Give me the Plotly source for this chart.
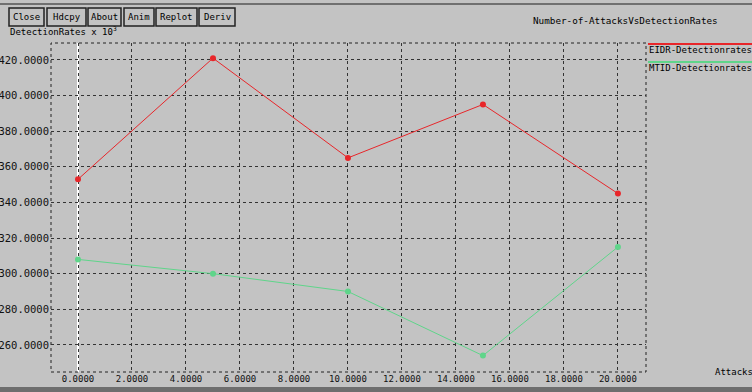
import plotly.graph_objects as go

attacks = [0, 5, 10, 15, 20]
eidr = [353, 421, 365, 395, 345]
mtid = [308, 300, 290, 254, 315]
series_names = ["EIDR-Detectionrates", "MTID-Detectionrates"]
x_ticks = [0, 2, 4, 6, 8, 10, 12, 14, 16, 18, 20]
y_ticks = [260, 280, 300, 320, 340, 360, 380, 400, 420]
buttons = ["Close", "Hdcpy", "About", "Anim", "Replot", "Deriv"]

W, H = 752, 392
L, R, T, B = 51, 646, 43, 372
BG = "#c3c3c3"
RED = "#e8262a"
GREEN = "#5fd58a"
FONT = "DejaVu Sans Mono"
FS = 9


def px(x):
    return (x - L) / (R - L)


def py(y):
    return (B - y) / (B - T)


fig = go.Figure()
fig.add_trace(go.Scatter(x=attacks, y=eidr, mode="lines+markers", name=series_names[0],
                         line=dict(color=RED, width=1), marker=dict(color=RED, size=6, symbol="circle")))
fig.add_trace(go.Scatter(x=attacks, y=mtid, mode="lines+markers", name=series_names[1],
                         line=dict(color=GREEN, width=1), marker=dict(color=GREEN, size=6, symbol="circle")))

shapes = []
annotations = []

# white zero line
shapes.append(dict(type="line", xref="x", yref="paper", x0=0, x1=0, y0=0, y1=1,
                   line=dict(color="white", width=2), layer="below"))
# dotted frame
shapes.append(dict(type="rect", xref="paper", yref="paper", x0=0, x1=1, y0=0, y1=1,
                   line=dict(color="#222222", width=1, dash="dot"), layer="below"))

# legend
legend_rows = [(44, 50, RED), (62, 68, GREEN)]
for name, (ly, ty, col) in zip(series_names, legend_rows):
    shapes.append(dict(type="line", xref="paper", yref="paper", x0=px(648), x1=px(760),
                       y0=py(ly), y1=py(ly), line=dict(color=col, width=2)))
    annotations.append(dict(text=name, xref="paper", yref="paper", x=px(647), y=py(ty),
                            xanchor="left", yanchor="middle", showarrow=False,
                            font=dict(family=FONT, size=FS, color="black")))

# title
annotations.append(dict(text="Number-of-AttacksVsDetectionRates", xref="paper", yref="paper",
                        x=px(531), y=py(21), xanchor="left", yanchor="middle", showarrow=False,
                        font=dict(family=FONT, size=9.3, color="black")))
# x label
annotations.append(dict(text="Attacks", xref="paper", yref="paper", x=px(713), y=py(372),
                        xanchor="left", yanchor="middle", showarrow=False,
                        font=dict(family=FONT, size=FS, color="black")))
# y label
annotations.append(dict(text="DetectionRates x 10<sup>3</sup>", xref="paper", yref="paper",
                        x=px(8), y=py(31), xanchor="left", yanchor="middle", showarrow=False,
                        font=dict(family=FONT, size=FS, color="black")))

# buttons
btn_x = [(9, 44), (47, 86), (88, 121), (124, 154), (156, 197), (199, 235)]
for label, (x0, x1) in zip(buttons, btn_x):
    shapes.append(dict(type="rect", xref="paper", yref="paper", x0=px(x0), x1=px(x1),
                       y0=py(26), y1=py(8), line=dict(color="#222222", width=1.5),
                       fillcolor=BG, layer="above"))
    annotations.append(dict(text=label, xref="paper", yref="paper", x=px((x0 + x1) / 2), y=py(17),
                            xanchor="center", yanchor="middle", showarrow=False,
                            font=dict(family=FONT, size=FS, color="black")))

# window frame
shapes.append(dict(type="line", xref="paper", yref="paper", x0=px(0), x1=px(W), y0=py(4), y1=py(4),
                   line=dict(color="#555555", width=1.5)))
shapes.append(dict(type="rect", xref="paper", yref="paper", x0=px(0), x1=px(W), y0=py(392), y1=py(387),
                   line=dict(width=0), fillcolor="#6e6e6e"))

fig.update_layout(
    width=W, height=H,
    margin=dict(l=L, r=W - R, t=T, b=H - B),
    paper_bgcolor=BG, plot_bgcolor=BG,
    showlegend=False,
    shapes=shapes, annotations=annotations,
    font=dict(family=FONT, size=FS, color="black"),
    xaxis=dict(range=[-1.0, 21.04], tickvals=x_ticks,
               ticktext=[f"{v:.4f}" for v in x_ticks], automargin=False,
               showgrid=True, gridcolor="#333333", griddash="dot", gridwidth=1,
               zeroline=False, showline=False, ticks="", fixedrange=True,
               tickfont=dict(family=FONT, size=FS, color="#111111")),
    yaxis=dict(range=[244.8, 429.5], tickvals=y_ticks,
               ticktext=[f"{v:.4f}" for v in y_ticks], automargin=False,
               showgrid=True, gridcolor="#333333", griddash="dot", gridwidth=1,
               zeroline=False, showline=False, ticks="", fixedrange=True, ticklabelstandoff=1,
               tickfont=dict(family=FONT, size=10.5, color="#111111")),
)

fig.write_html("out.html", config={"displayModeBar": False})
